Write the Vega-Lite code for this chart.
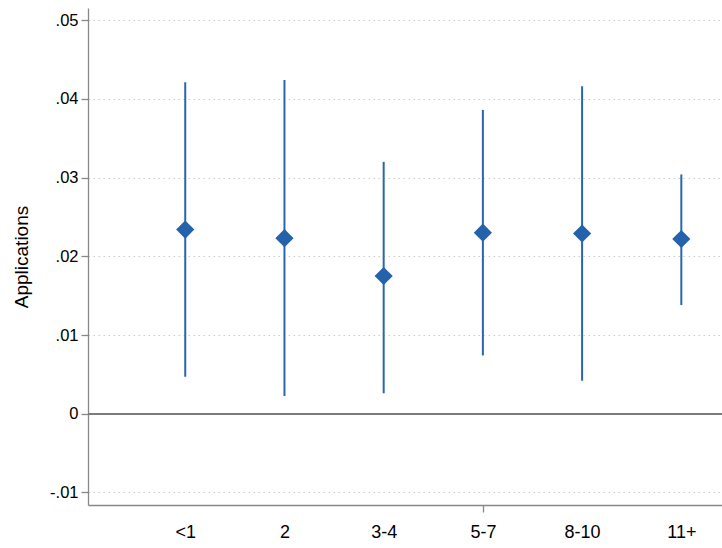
{
  "$schema": "https://vega.github.io/schema/vega-lite/v6.json",
  "width": 634,
  "height": 497,
  "autosize": {"type": "none"},
  "padding": {"left": 88, "top": 8, "right": 0, "bottom": 43},
  "background": "white",
  "config": {
    "view": {"stroke": null},
    "font": "Liberation Sans"
  },
  "data": {
    "values": [
      {"cat": "<1", "pos": 1, "est": 0.0234, "lo": 0.0047, "hi": 0.0421},
      {"cat": "2", "pos": 2, "est": 0.0223, "lo": 0.00225, "hi": 0.0424},
      {"cat": "3-4", "pos": 3, "est": 0.0175, "lo": 0.0026, "hi": 0.0320},
      {"cat": "5-7", "pos": 4, "est": 0.0230, "lo": 0.0074, "hi": 0.0386},
      {"cat": "8-10", "pos": 5, "est": 0.0229, "lo": 0.0042, "hi": 0.0416},
      {"cat": "11+", "pos": 6, "est": 0.0222, "lo": 0.0138, "hi": 0.0304}
    ]
  },
  "layer": [
    {
      "mark": {"type": "rule", "color": "#2a66ad", "strokeWidth": 2},
      "encoding": {
        "x": {
          "field": "pos", "type": "quantitative",
          "scale": {"domain": [0.02, 6.41], "nice": false, "zero": false},
          "axis": {
            "title": null,
            "values": [1, 2, 3, 4, 5, 6],
            "labelExpr": "['','<1','2','3-4','5-7','8-10','11+'][datum.value]",
            "labelFontSize": 18,
            "labelColor": "#000",
            "labelPadding": 11,
            "tickSize": 7,
            "tickColor": "#888",
            "tickWidth": 1.3,
            "tickOpacity": {"condition": {"test": "datum.value === 4", "value": 1}, "value": 0},
            "domainColor": "#888",
            "domainWidth": 1.3,
            "grid": false
          }
        },
        "y": {
          "field": "lo", "type": "quantitative",
          "scale": {"domain": [-0.0116, 0.05155], "nice": false, "zero": false},
          "axis": {
            "title": "Applications",
            "titleFontSize": 19,
            "titleFontWeight": "normal",
            "titleColor": "#000",
            "titlePadding": 18,
            "values": [-0.01, 0, 0.01, 0.02, 0.03, 0.04, 0.05],
            "labelExpr": "datum.value == 0 ? '0' : replace(replace(format(datum.value, '.2f'), '0.', '.'), '\u2212', '-')",
            "labelFontSize": 16.5,
            "labelColor": "#000",
            "labelPadding": 3,
            "tickSize": 7,
            "tickColor": "#888",
            "tickWidth": 1.3,
            "domainColor": "#888",
            "domainWidth": 1.3,
            "grid": true,
            "gridColor": "#cccccc",
            "gridWidth": 1,
            "gridDash": [1.5, 3.5],
            "gridOpacity": {"condition": {"test": "datum.value === 0", "value": 0}, "value": 1}
          }
        },
        "y2": {"field": "hi"}
      }
    },
    {
      "mark": {"type": "rule", "color": "#7a7a7a", "strokeWidth": 1.5},
      "encoding": {"y": {"datum": 0, "type": "quantitative"}}
    },
    {
      "mark": {"type": "point", "shape": "diamond", "filled": true, "color": "#2462ab", "opacity": 1, "size": 330},
      "encoding": {
        "x": {"field": "pos", "type": "quantitative"},
        "y": {"field": "est", "type": "quantitative"}
      }
    }
  ]
}
